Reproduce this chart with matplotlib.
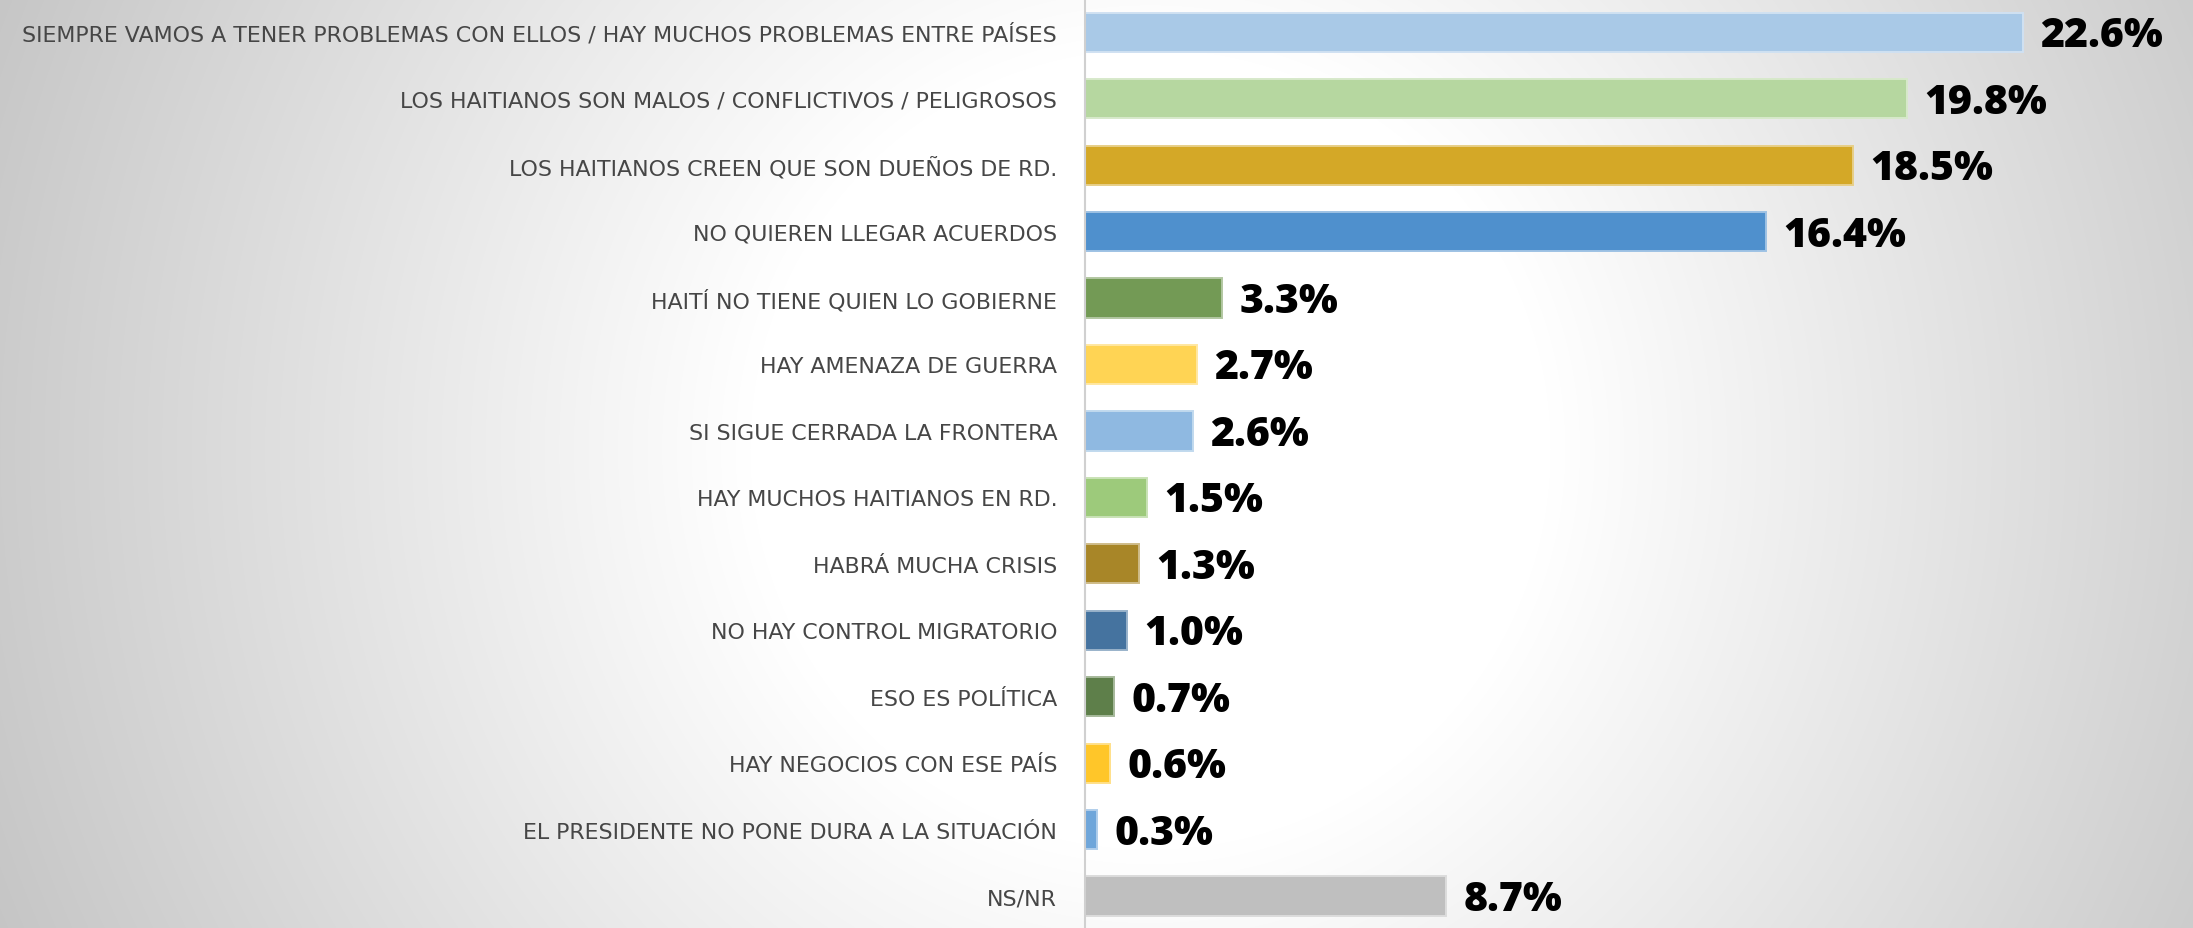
import numpy as np
import matplotlib
matplotlib.use("Agg")
import matplotlib.pyplot as plt
from matplotlib import colors as mcolors

categories = [
    "SIEMPRE VAMOS A TENER PROBLEMAS CON ELLOS / HAY MUCHOS PROBLEMAS ENTRE PAÍSES",
    "LOS HAITIANOS SON MALOS / CONFLICTIVOS / PELIGROSOS",
    "LOS HAITIANOS CREEN QUE SON DUEÑOS DE RD.",
    "NO QUIEREN LLEGAR ACUERDOS",
    "HAITÍ NO TIENE QUIEN LO GOBIERNE",
    "HAY AMENAZA DE GUERRA",
    "SI SIGUE CERRADA LA FRONTERA",
    "HAY MUCHOS HAITIANOS EN RD.",
    "HABRÁ MUCHA CRISIS",
    "NO HAY CONTROL MIGRATORIO",
    "ESO ES POLÍTICA",
    "HAY NEGOCIOS CON ESE PAÍS",
    "EL PRESIDENTE NO PONE DURA A LA SITUACIÓN",
    "NS/NR",
]
values = [22.6, 19.8, 18.5, 16.4, 3.3, 2.7, 2.6, 1.5, 1.3, 1.0, 0.7, 0.6, 0.3, 8.7]
bar_colors = [
    "#a9c9e7", "#b6d7a0", "#d4a827", "#4f90cd", "#739a55", "#ffd454", "#8fb9e1",
    "#9dca7b", "#a88628", "#45739f", "#5e7f4a", "#ffc629", "#6fa6da", "#bfbfbf",
]

W, H, DPI = 2193, 929, 100
fig = plt.figure(figsize=(W / DPI, H / DPI), dpi=DPI)

# radial grey-to-white background
bg = fig.add_axes([0, 0, 1, 1], zorder=0)
yy, xx = np.mgrid[0:H, 0:W]
dist = np.hypot(xx - 1150.0, yy - 450.0)
grey = np.clip(255 - np.clip(dist - 400, 0, None) * 0.068, 0, 255) / 255.0
bg.imshow(np.dstack([grey, grey, grey]), extent=[0, W, H, 0], aspect="auto",
          interpolation="bilinear")
bg.set_axis_off()

x0 = 1085 / W
ax = fig.add_axes([x0, 0, 1 - x0, 1], zorder=1)
ax.patch.set_alpha(0)

ypos = np.arange(len(categories))
edge_colors = [mcolors.to_hex(0.55 * np.array(mcolors.to_rgb(c)) + 0.45) for c in bar_colors]
ax.barh(ypos, values, height=0.59, color=bar_colors, edgecolor=edge_colors,
        linewidth=1.4, zorder=2)

ax.set_xlim(0, (W - 1085) / 41.5)
ax.set_ylim(13.48, -0.50)

ax.set_yticks(ypos)
ax.set_yticklabels(categories, fontsize=15.9, color="#464646",
                   fontfamily="DejaVu Sans")
ax.tick_params(axis="y", length=0, pad=20)
ax.set_xticks([])

for s in ("top", "right", "bottom"):
    ax.spines[s].set_visible(False)
ax.spines["left"].set_color("#d0d0d0")
ax.spines["left"].set_linewidth(1.5)

for y, v in zip(ypos, values):
    ax.annotate(f"{v:.1f}%", xy=(v, y), xytext=(12.5, -2.5), textcoords="offset points",
                ha="left", va="center", fontsize=29.5, fontweight="heavy",
                fontfamily="Open Sans", color="#000000")

fig.savefig("out.png", dpi=DPI)
